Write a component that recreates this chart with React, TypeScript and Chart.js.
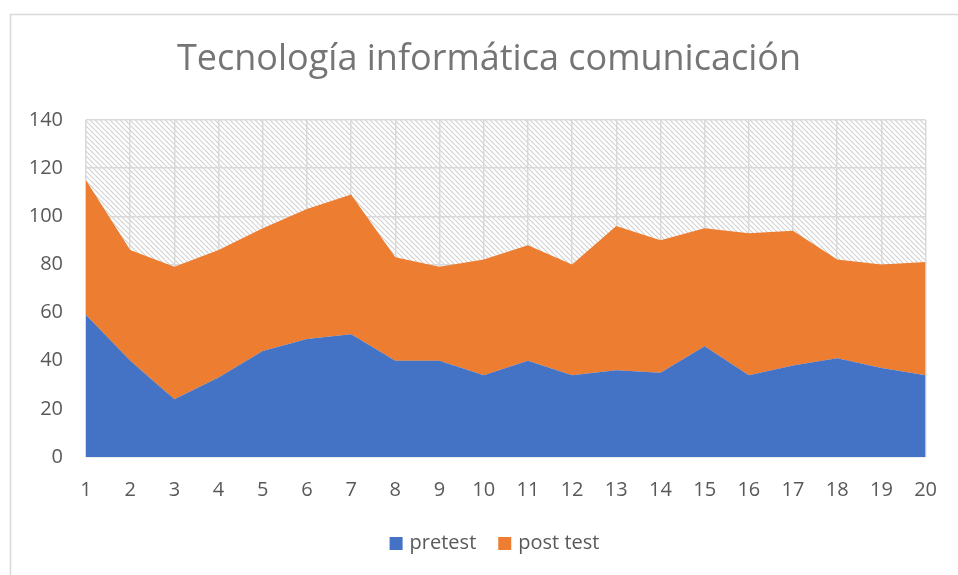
import { useEffect, useRef } from "react";
import { Chart, registerables } from "chart.js";

Chart.register(...registerables);

const chartTitle = "Tecnología informática comunicación";
const categories = ["1", "2", "3", "4", "5", "6", "7", "8", "9", "10", "11", "12", "13", "14", "15", "16", "17", "18", "19", "20"];
const seriesNames = ["pretest", "post test"];
const pretest = [59, 40, 24, 33, 44, 49, 51, 40, 40, 34, 40, 34, 36, 35, 46, 34, 38, 41, 37, 34];
const postTest = [56, 46, 55, 53, 51, 54, 58, 43, 39, 48, 48, 46, 60, 55, 49, 59, 56, 41, 43, 47];
const yMin = 0;
const yMax = 140;
const yStep = 20;

const BLUE = "#4472C4";
const ORANGE = "#ED7D31";
const TEXT = "#595959";
const FONT = "'Open Sans', 'Noto Sans', sans-serif";

function makeHatch(): CanvasPattern | string {
  const t = 5;
  const c = document.createElement("canvas");
  c.width = t;
  c.height = t;
  const g = c.getContext("2d");
  if (!g) return "#ffffff";
  g.fillStyle = "#ffffff";
  g.fillRect(0, 0, t, t);
  g.strokeStyle = "#d2d2d2";
  g.lineWidth = 1.2;
  for (let k = -1; k <= 1; k++) {
    g.beginPath();
    g.moveTo(k * t, 0);
    g.lineTo(k * t + t, t);
    g.stroke();
  }
  const p = g.createPattern(c, "repeat");
  return p || "#ffffff";
}

export default function App() {
  const ref = useRef<HTMLCanvasElement | null>(null);

  useEffect(() => {
    if (!ref.current) return;
    const hatch = makeHatch();

    const decor = {
      id: "decor",
      beforeDraw(chart: any) {
        const { ctx, chartArea, width, height } = chart;
        ctx.save();
        ctx.fillStyle = "#ffffff";
        ctx.fillRect(0, 0, width, height);
        ctx.fillStyle = hatch;
        ctx.fillRect(chartArea.left, chartArea.top, chartArea.right - chartArea.left, chartArea.bottom - chartArea.top);
        ctx.restore();
      },
      afterDraw(chart: any) {
        const { ctx, width, height } = chart;
        ctx.save();
        // outer border
        ctx.strokeStyle = "#d9d9d9";
        ctx.lineWidth = 1.5;
        ctx.strokeRect(10.5, 14.5, width + 20, height + 20);
        // title
        ctx.fillStyle = "#757575";
        ctx.font = `36px ${FONT}`;
        ctx.textAlign = "center";
        ctx.textBaseline = "alphabetic";
        ctx.fillText(chartTitle, 489, 70);
        // legend
        ctx.font = `20px ${FONT}`;
        const colors = [BLUE, ORANGE];
        const box = 13;
        const gap = 7;
        const spacing = 22;
        const widths = seriesNames.map((n) => ctx.measureText(n).width);
        let total = 0;
        widths.forEach((w, i) => {
          total += box + gap + w + (i < widths.length - 1 ? spacing : 0);
        });
        let x = 494.5 - total / 2;
        const cy = 543.5;
        ctx.textAlign = "left";
        ctx.textBaseline = "middle";
        seriesNames.forEach((n, i) => {
          ctx.fillStyle = colors[i];
          ctx.fillRect(x, cy - box / 2, box, box);
          x += box + gap;
          ctx.fillStyle = TEXT;
          ctx.fillText(n, x, cy);
          x += widths[i] + spacing;
        });
        ctx.restore();
      },
    };

    const chart = new Chart(ref.current, {
      type: "line",
      data: {
        labels: categories,
        datasets: [
          {
            label: seriesNames[0],
            data: pretest,
            backgroundColor: BLUE,
            borderColor: BLUE,
            borderWidth: 0,
            pointRadius: 0,
            fill: "origin",
            tension: 0,
          },
          {
            label: seriesNames[1],
            data: postTest,
            backgroundColor: ORANGE,
            borderColor: ORANGE,
            borderWidth: 0,
            pointRadius: 0,
            fill: "-1",
            tension: 0,
          },
        ],
      },
      options: {
        animation: false,
        responsive: true,
        maintainAspectRatio: false,
        layout: { padding: { left: 0, top: 120, right: 29, bottom: 78 } },
        plugins: {
          legend: { display: false },
          title: { display: false },
          tooltip: { enabled: false },
        },
        scales: {
          x: {
            offset: false,
            grid: { color: "#d9d9d9", lineWidth: 1.5, drawTicks: false, offset: false },
            border: { display: false },
            ticks: { color: TEXT, font: { family: FONT, size: 20 }, padding: 21, maxRotation: 0, autoSkip: false },
            afterFit(scale: any) {
              scale.height = 40;
            },
          },
          y: {
            stacked: true,
            min: yMin,
            max: yMax,
            grid: { color: "#d9d9d9", lineWidth: 1.5, drawTicks: false },
            border: { display: false },
            ticks: { stepSize: yStep, color: TEXT, font: { family: FONT, size: 20 }, padding: 23 },
            afterFit(scale: any) {
              scale.width = 86;
            },
          },
        },
      },
      plugins: [decor],
    });
    return () => chart.destroy();
  }, []);

  return (
    <div style={{ position: "fixed", left: 0, top: 0, width: 958, height: 575 }}>
      <canvas ref={ref} />
    </div>
  );
}
